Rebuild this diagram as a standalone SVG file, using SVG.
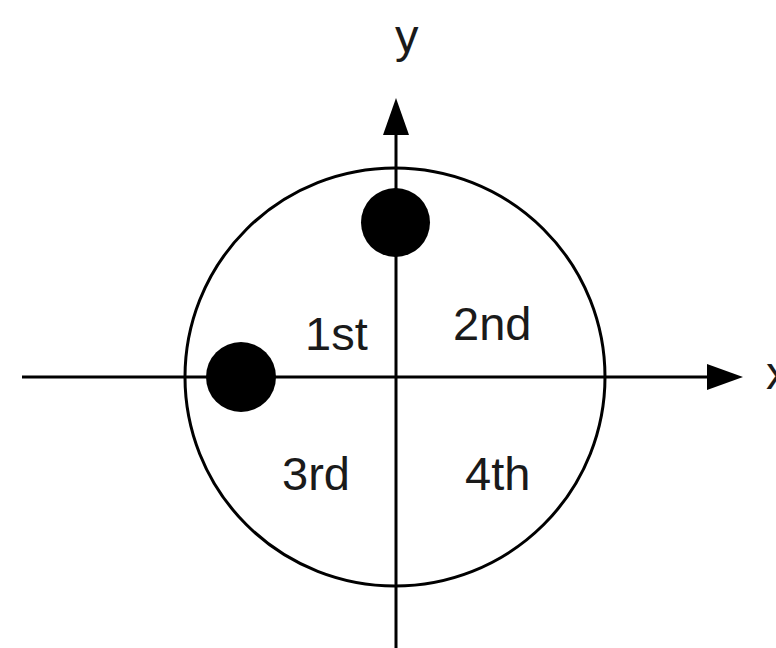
<svg xmlns="http://www.w3.org/2000/svg" width="776" height="648" viewBox="0 0 776 648">
<style>
.ln{stroke:#000;stroke-width:3;fill:none}
.lbl{font-family:"Liberation Sans",Arial,sans-serif;font-size:47px;fill:#1a1a1a}
.dot{fill:#000}
</style>
<rect width="776" height="648" fill="#fff"/>
<g id="circle"><ellipse class="ln" cx="395" cy="377" rx="210" ry="209"/></g>
<g id="connectors">
<line class="ln" x1="22" y1="377" x2="710" y2="377"/>
<polygon points="743,377 707,364 707,390" fill="#000"/>
<line class="ln" x1="396" y1="648" x2="396" y2="132"/>
<polygon points="396,98 383,135 409,135" fill="#000"/>
</g>
<g id="dot-top"><circle class="dot" cx="395.5" cy="222.5" r="34.5"/></g>
<g id="dot-left"><circle class="dot" cx="241" cy="377" r="35"/></g>
<g id="label-y"><text class="lbl" x="395" y="52">y</text></g>
<g id="label-x"><text class="lbl" x="766" y="389">x</text></g>
<g id="q1"><text class="lbl" x="305" y="350">1st</text></g>
<g id="q2"><text class="lbl" x="453" y="340">2nd</text></g>
<g id="q3"><text class="lbl" x="282" y="490">3rd</text></g>
<g id="q4"><text class="lbl" x="465" y="490">4th</text></g>
</svg>
